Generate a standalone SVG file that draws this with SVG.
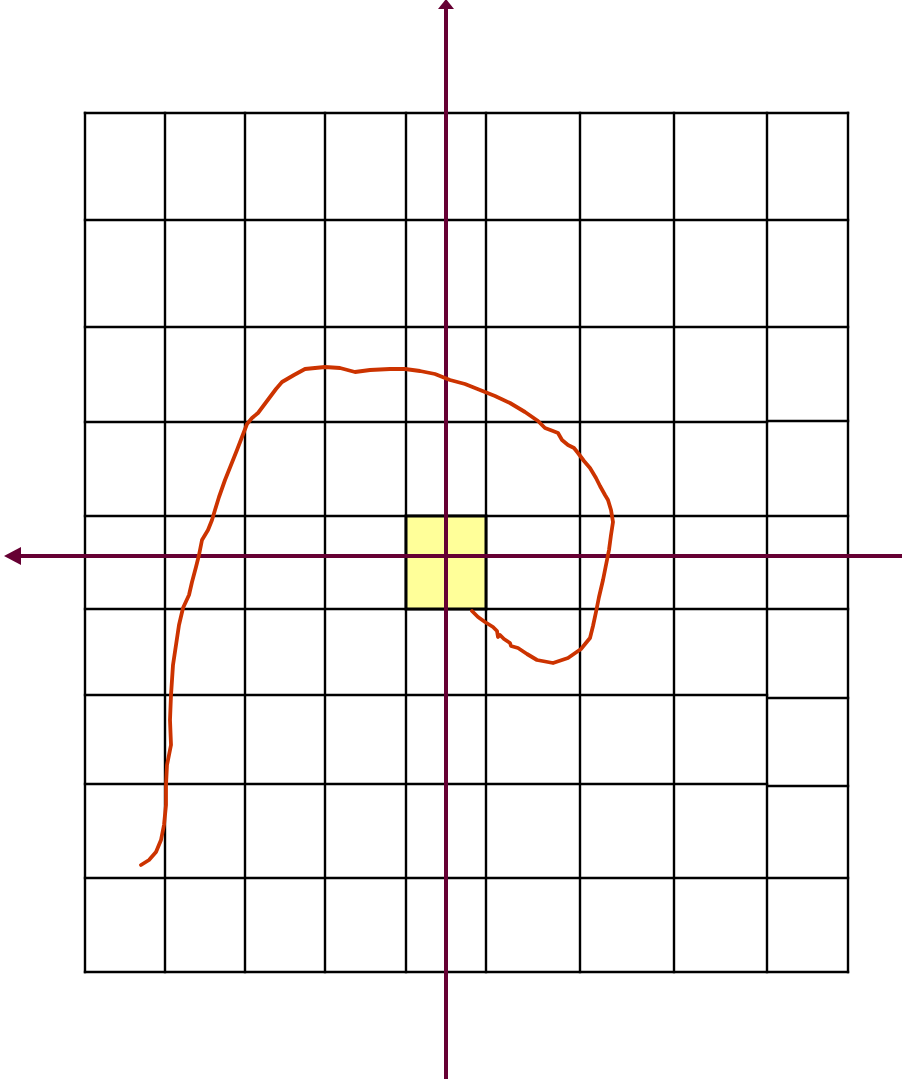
<svg xmlns="http://www.w3.org/2000/svg" width="902" height="1089" viewBox="0 0 902 1089">
<style>
.g{stroke:#000;stroke-width:2.4;fill:none;stroke-linecap:square}
.ax{stroke:#660033;stroke-width:4;fill:none}
.ah{fill:#660033}
.cv{stroke:#CC3300;stroke-width:3.8;fill:none;stroke-linejoin:round;stroke-linecap:round}
</style>
<rect width="902" height="1089" fill="#fff"/>
<g id="grid">
<path class="g" d="M85 113V972M165 113V972M245 113V972M325 113V972M406 113V972M486 113V972M580 113V972M674 113V972M767 113V972M848 113V972"/>
<path class="g" d="M85 113H848M85 220H848M85 327H848M85 422H767M769 421H848M85 516H848M85 609H848M85 695H767M769 698H848M85 784H767M769 786H848M85 878H848M85 972H848"/>
</g>
<g id="cell">
<rect x="406" y="516" width="80" height="93" fill="#FFFF99" stroke="#000" stroke-width="3"/>
</g>
<g id="connectors">
<line class="ax" x1="446" y1="8" x2="446" y2="1079"/>
<polygon class="ah" points="446,-1 454,9 438,9"/>
<line class="ax" x1="18" y1="556" x2="902" y2="556"/>
<polygon class="ah" points="4,556 21,547 21,565"/>
</g>
<g id="curve">
<polyline class="cv" points="141,865 149,860 156,852 161,840 164,825 166,805 166,785 167,765 171,745 170,720 171,695 173,665 176,645 179,625 183,608 189,595 192,582 196,567 199,555 202,540 208,530 212,520 215,510 219,497 225,480 231,465 237,450 242,437 247,424 252,418 258,413 264,405 270,397 276,389 282,382 294,375 305,369 325,367 340,368 355,372 370,370 390,369 405,369 420,371 435,374 450,380 465,384 480,390 495,396 510,403 525,412 538,421 545,428 553,431 558,433 562,440 568,445 574,448 578,453 584,461 590,468 596,478 600,486 605,495 608,500 611,510 613,522 611,535 609,550 606,565 603,580 599,597 596,612 593,626 590,638 581,649 568,658 553,663 537,660 527,654 518,648 511,646 510,643 504,639 500,635 498,637 497,631 493,627 485,622 478,617 472,611"/>
</g>
</svg>
